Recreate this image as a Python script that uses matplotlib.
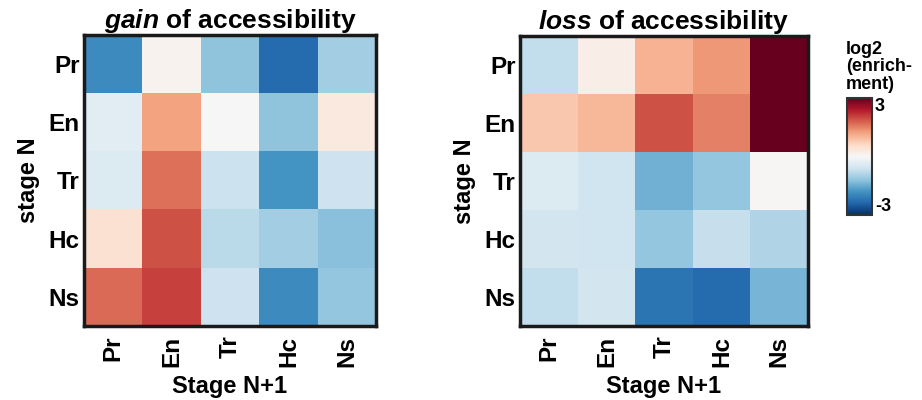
import numpy as np
import matplotlib
matplotlib.use("Agg")
import matplotlib.pyplot as plt

plt.rcParams["font.family"] = ["Liberation Sans", "DejaVu Sans"]
plt.rcParams["font.weight"] = "bold"
plt.rcParams["axes.unicode_minus"] = False
plt.rcParams["mathtext.fontset"] = "custom"
plt.rcParams["mathtext.it"] = "Liberation Sans:italic:bold"

stages = ["Pr", "En", "Tr", "Hc", "Ns"]

# log2 enrichment, rows = stage N, cols = stage N+1
gain = np.array([
    [-1.9, 0.1, -1.2, -2.3, -1.05],
    [-0.35, 1.2, 0.0, -1.2, 0.3],
    [-0.4, 1.65, -0.65, -1.8, -0.62],
    [0.45, 1.9, -0.8, -1.05, -1.25],
    [1.7, 2.05, -0.62, -1.9, -1.15],
])
loss = np.array([
    [-0.75, 0.2, 1.05, 1.3, 3.0],
    [0.8, 1.0, 1.9, 1.5, 3.0],
    [-0.42, -0.6, -1.45, -1.15, 0.03],
    [-0.55, -0.6, -1.15, -0.7, -0.9],
    [-0.75, -0.55, -2.2, -2.3, -1.4],
])

fig = plt.figure(figsize=(9.22, 4), dpi=100)
W, H = 922, 400
ax1 = fig.add_axes([84 / W, 1 - 326 / H, 292 / W, 291 / H])
ax2 = fig.add_axes([520 / W, 1 - 326 / H, 288 / W, 290 / H])
cax = fig.add_axes([847 / W, 1 - 215 / H, 25 / W, 117 / H])

titles = [r"$\mathit{gain}$ of accessibility", r"$\mathit{loss}$ of accessibility"]
for ax, data, title in zip([ax1, ax2], [gain, loss], titles):
    im = ax.imshow(data, cmap="RdBu_r", vmin=-3, vmax=3, aspect="auto")
    ax.set_xticks(range(5))
    ax.set_xticklabels(stages, rotation=90, fontsize=17.5, fontweight="bold")
    ax.set_yticks(range(5))
    ax.set_yticklabels(stages, fontsize=17.5, fontweight="bold")
    ax.tick_params(axis="x", length=0, pad=7)
    ax.tick_params(axis="y", length=0, pad=3)
    ax.set_xlabel("Stage N+1", fontsize=17, fontweight="bold", labelpad=6)
    ax.set_ylabel("stage N", fontsize=17, fontweight="bold", labelpad=6)
    ax.set_title(title, fontsize=19, fontweight="bold", pad=4)
    for s in ax.spines.values():
        s.set_linewidth(2.5)
        s.set_color("#1a1a1a")

cb = fig.colorbar(im, cax=cax, ticks=[-3, 3])
cb.ax.tick_params(length=0, labelsize=13, pad=2)
labs = cb.ax.get_yticklabels()
for lab in labs:
    lab.set_fontweight("bold")
labs[0].set_va("bottom")
labs[-1].set_va("top")
cb.outline.set_linewidth(1.5)
cb.outline.set_edgecolor("#333333")
fig.text(846 / W, 1 - 93 / H, "log2\n(enrich-\nment)", fontsize=13, fontweight="bold",
         ha="left", va="bottom", linespacing=1.05)

fig.savefig("out.png", dpi=100)
